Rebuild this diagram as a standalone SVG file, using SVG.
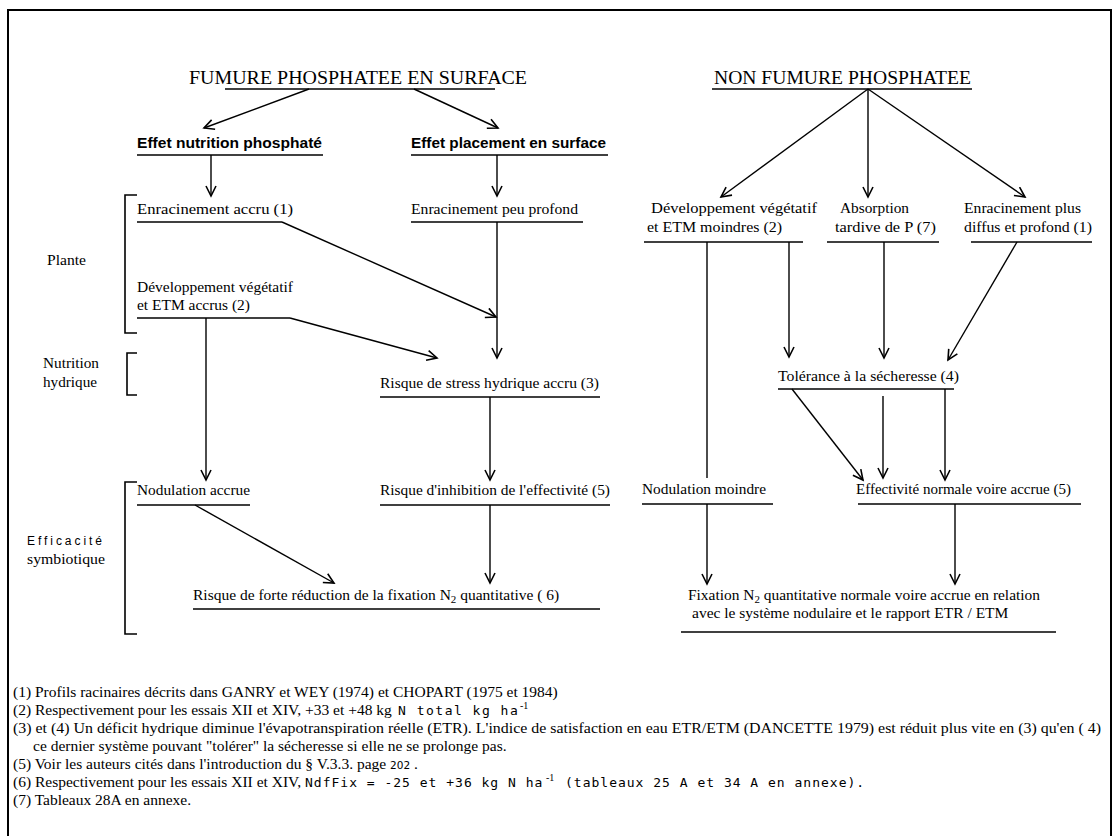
<svg xmlns="http://www.w3.org/2000/svg" width="1116" height="836" viewBox="0 0 1116 836">
<defs>
<marker id="ah" markerUnits="userSpaceOnUse" markerWidth="14" markerHeight="14" refX="11" refY="6" orient="auto">
<path d="M1,1 L11,6 L1,11" fill="none" stroke="#000" stroke-width="1.6"/>
</marker>
<style>
.t{font-family:"Liberation Serif","Times New Roman",serif;font-size:15.5px;fill:#000}
.h{font-family:"Liberation Serif","Times New Roman",serif;font-size:19.5px;fill:#000}
.b{font-family:"Liberation Sans",Arial,sans-serif;font-size:14.5px;font-weight:bold;fill:#000}
.s{font-family:"Liberation Sans",Arial,sans-serif;font-size:12px;fill:#000}
.f{font-family:"Liberation Serif","Times New Roman",serif;font-size:15.5px;fill:#000}
.m{font-family:"DejaVu Sans Mono","Liberation Mono",monospace;font-size:13px;fill:#000}
.sup{font-family:"Liberation Serif","Times New Roman",serif;font-size:10px;fill:#000}
.u{stroke:#000;stroke-width:1.6;fill:none}
.c{stroke:#000;stroke-width:1.4;fill:none;marker-end:url(#ah)}
.p{stroke:#000;stroke-width:1.4;fill:none}
.br{stroke:#000;stroke-width:1.6;fill:none}
</style>
</defs>
<rect width="1116" height="836" fill="#fff"/>
<g id="frame"><path d="M8,836 V10 H1111 V836" fill="none" stroke="#000" stroke-width="2"/></g>

<g id="n-fumure"><text class="h" x="189" y="84" textLength="338" lengthAdjust="spacingAndGlyphs">FUMURE PHOSPHATEE EN SURFACE</text><line class="u" x1="225" y1="89" x2="495" y2="89"/></g>
<g id="n-nonfumure"><text class="h" x="714" y="84" textLength="257" lengthAdjust="spacingAndGlyphs">NON FUMURE PHOSPHATEE</text><line class="u" x1="712" y1="89" x2="972" y2="89"/></g>

<g id="n-effet-nutrition"><text class="b" x="137" y="148" textLength="185" lengthAdjust="spacingAndGlyphs">Effet nutrition phosphaté</text><line class="u" x1="137" y1="155" x2="323" y2="155"/></g>
<g id="n-effet-placement"><text class="b" x="411" y="148" textLength="195" lengthAdjust="spacingAndGlyphs">Effet placement en surface</text><line class="u" x1="411" y1="155" x2="608" y2="155"/></g>

<g id="n-enr-accru"><text class="t" x="137" y="214" textLength="156" lengthAdjust="spacingAndGlyphs">Enracinement accru  (1)</text><line class="u" x1="137" y1="222" x2="282" y2="222"/></g>
<g id="n-enr-peu"><text class="t" x="411" y="214" textLength="167" lengthAdjust="spacingAndGlyphs">Enracinement peu profond</text><line class="u" x1="411" y1="222" x2="583" y2="222"/></g>
<g id="n-dev-accrus"><text class="t" x="137" y="292" textLength="156" lengthAdjust="spacingAndGlyphs">Développement végétatif</text><text class="t" x="137" y="310" textLength="113" lengthAdjust="spacingAndGlyphs">et ETM accrus (2)</text><line class="u" x1="137" y1="318" x2="290" y2="318"/></g>
<g id="n-stress"><text class="t" x="380" y="388" textLength="219" lengthAdjust="spacingAndGlyphs">Risque de stress hydrique accru (3)</text><line class="u" x1="380" y1="397" x2="600" y2="397"/></g>
<g id="n-nod-accrue"><text class="t" x="137" y="495" textLength="113" lengthAdjust="spacingAndGlyphs">Nodulation accrue</text><line class="u" x1="137" y1="505" x2="250" y2="505"/></g>
<g id="n-inhibition"><text class="t" x="380" y="495" textLength="230" lengthAdjust="spacingAndGlyphs">Risque d'inhibition de l'effectivité (5)</text><line class="u" x1="380" y1="505" x2="610" y2="505"/></g>
<g id="n-reduction"><text class="t" x="193" y="600">Risque de forte réduction de la fixation N<tspan font-size="11" dy="3">2</tspan><tspan dy="-3"> quantitative ( 6)</tspan></text><line class="u" x1="193" y1="609" x2="600" y2="609"/></g>

<g id="n-dev-moindres"><text class="t" x="651" y="213" textLength="166" lengthAdjust="spacingAndGlyphs">Développement végétatif</text><text class="t" x="647" y="232" textLength="135" lengthAdjust="spacingAndGlyphs">et ETM moindres (2)</text><line class="u" x1="644" y1="242" x2="803" y2="242"/></g>
<g id="n-absorption"><text class="t" x="840" y="213" textLength="69" lengthAdjust="spacingAndGlyphs">Absorption</text><text class="t" x="835" y="232" textLength="101" lengthAdjust="spacingAndGlyphs">tardive de P (7)</text><line class="u" x1="827" y1="242" x2="939" y2="242"/></g>
<g id="n-enr-plus"><text class="t" x="964" y="213" textLength="117" lengthAdjust="spacingAndGlyphs">Enracinement plus</text><text class="t" x="964" y="232" textLength="128" lengthAdjust="spacingAndGlyphs">diffus et profond (1)</text><line class="u" x1="971" y1="242" x2="1092" y2="242"/></g>
<g id="n-tolerance"><text class="t" x="778" y="381" textLength="181" lengthAdjust="spacingAndGlyphs">Tolérance à la sécheresse (4)</text><line class="u" x1="778" y1="389" x2="954" y2="389"/></g>
<g id="n-nod-moindre"><text class="t" x="642" y="494" textLength="124" lengthAdjust="spacingAndGlyphs">Nodulation moindre</text><line class="u" x1="642" y1="504" x2="773" y2="504"/></g>
<g id="n-effectivite"><text class="t" x="856" y="494" textLength="215" lengthAdjust="spacingAndGlyphs">Effectivité normale voire accrue (5)</text><line class="u" x1="858" y1="504" x2="1081" y2="504"/></g>
<g id="n-fixation"><text class="t" x="688" y="600" textLength="352" lengthAdjust="spacingAndGlyphs">Fixation N<tspan font-size="11" dy="3">2</tspan><tspan dy="-3"> quantitative normale voire accrue en relation</tspan></text><text class="t" x="692" y="618">avec le système nodulaire et le rapport ETR / ETM</text><line class="u" x1="681" y1="632" x2="1056" y2="632"/></g>

<g id="label-plante"><text class="t" x="47" y="265" textLength="39" lengthAdjust="spacingAndGlyphs">Plante</text><path class="br" d="M137,195 H125 V333 H137"/></g>
<g id="label-nutrition"><text class="t" x="43" y="368" textLength="56" lengthAdjust="spacingAndGlyphs">Nutrition</text><text class="t" x="43" y="387" textLength="54" lengthAdjust="spacingAndGlyphs">hydrique</text><path class="br" d="M137,353 H127 V395 H137"/></g>
<g id="label-efficacite"><text class="s" x="27" y="545" textLength="75" lengthAdjust="spacing">Efficacité</text><text class="t" x="27" y="564" textLength="78" lengthAdjust="spacingAndGlyphs">symbiotique</text><path class="br" d="M137,482 H125 V634 H137"/></g>

<g id="connectors">
<line class="c" x1="309" y1="89" x2="204" y2="128"/>
<line class="c" x1="414" y1="89" x2="498" y2="128"/>
<line class="c" x1="211" y1="155" x2="211" y2="196"/>
<line class="c" x1="497" y1="155" x2="497" y2="196"/>
<line class="c" x1="282" y1="222" x2="496" y2="317"/>
<line class="c" x1="497" y1="222" x2="497" y2="358"/>
<line class="c" x1="290" y1="318" x2="437" y2="358"/>
<line class="c" x1="206" y1="318" x2="206" y2="480"/>
<line class="c" x1="490" y1="397" x2="490" y2="480"/>
<line class="c" x1="195" y1="505" x2="334" y2="583"/>
<line class="c" x1="490" y1="505" x2="490" y2="583"/>
<line class="c" x1="868" y1="89" x2="721" y2="197"/>
<line class="c" x1="868" y1="89" x2="868" y2="197"/>
<line class="c" x1="868" y1="89" x2="1025" y2="197"/>
<line class="p" x1="707" y1="242" x2="707" y2="478"/>
<line class="c" x1="789" y1="242" x2="789" y2="357"/>
<line class="c" x1="884" y1="242" x2="884" y2="358"/>
<line class="c" x1="1017" y1="242" x2="948" y2="360"/>
<line class="c" x1="792" y1="389" x2="863" y2="480"/>
<line class="c" x1="883" y1="396" x2="883" y2="478"/>
<line class="c" x1="945" y1="389" x2="945" y2="480"/>
<line class="c" x1="707" y1="504" x2="707" y2="584"/>
<line class="c" x1="955" y1="504" x2="955" y2="584"/>
</g>

<g id="footnotes">
<text class="f" x="13" y="697">(1) Profils racinaires décrits dans GANRY et WEY (1974) et CHOPART (1975 et 1984)</text>
<text class="f" x="13" y="715">(2) Respectivement pour les essais XII et XIV, +33 et +48 kg</text>
<text class="m" x="398" y="715" letter-spacing="1.5">N total kg ha</text>
<text class="sup" x="520" y="709">-1</text>
<text class="f" x="13" y="733" textLength="1088" lengthAdjust="spacingAndGlyphs">(3) et (4) Un déficit hydrique diminue l'évapotranspiration réelle (ETR). L'indice de satisfaction en eau ETR/ETM (DANCETTE 1979) est réduit plus vite en (3) qu'en  ( 4)</text>
<text class="f" x="33" y="751">ce dernier système pouvant "tolérer" la sécheresse si elle ne se prolonge pas.</text>
<text class="f" x="13" y="769">(5) Voir les auteurs cités dans l'introduction du §  V.3.3. page <tspan font-family="DejaVu Sans, sans-serif" font-size="10.5">202</tspan> .</text>
<text class="f" x="13" y="787">(6) Respectivement pour les essais XII et XIV,</text>
<text class="m" x="305" y="787" letter-spacing="1">NdfFix = -25 et +36 kg N ha</text>
<text class="sup" x="546" y="781">-1</text>
<text class="m" x="565" y="787" letter-spacing="1">(tableaux 25 A et 34 A en annexe).</text>
<text class="f" x="13" y="805">(7) Tableaux 28A en annexe.</text>
</g>
</svg>
